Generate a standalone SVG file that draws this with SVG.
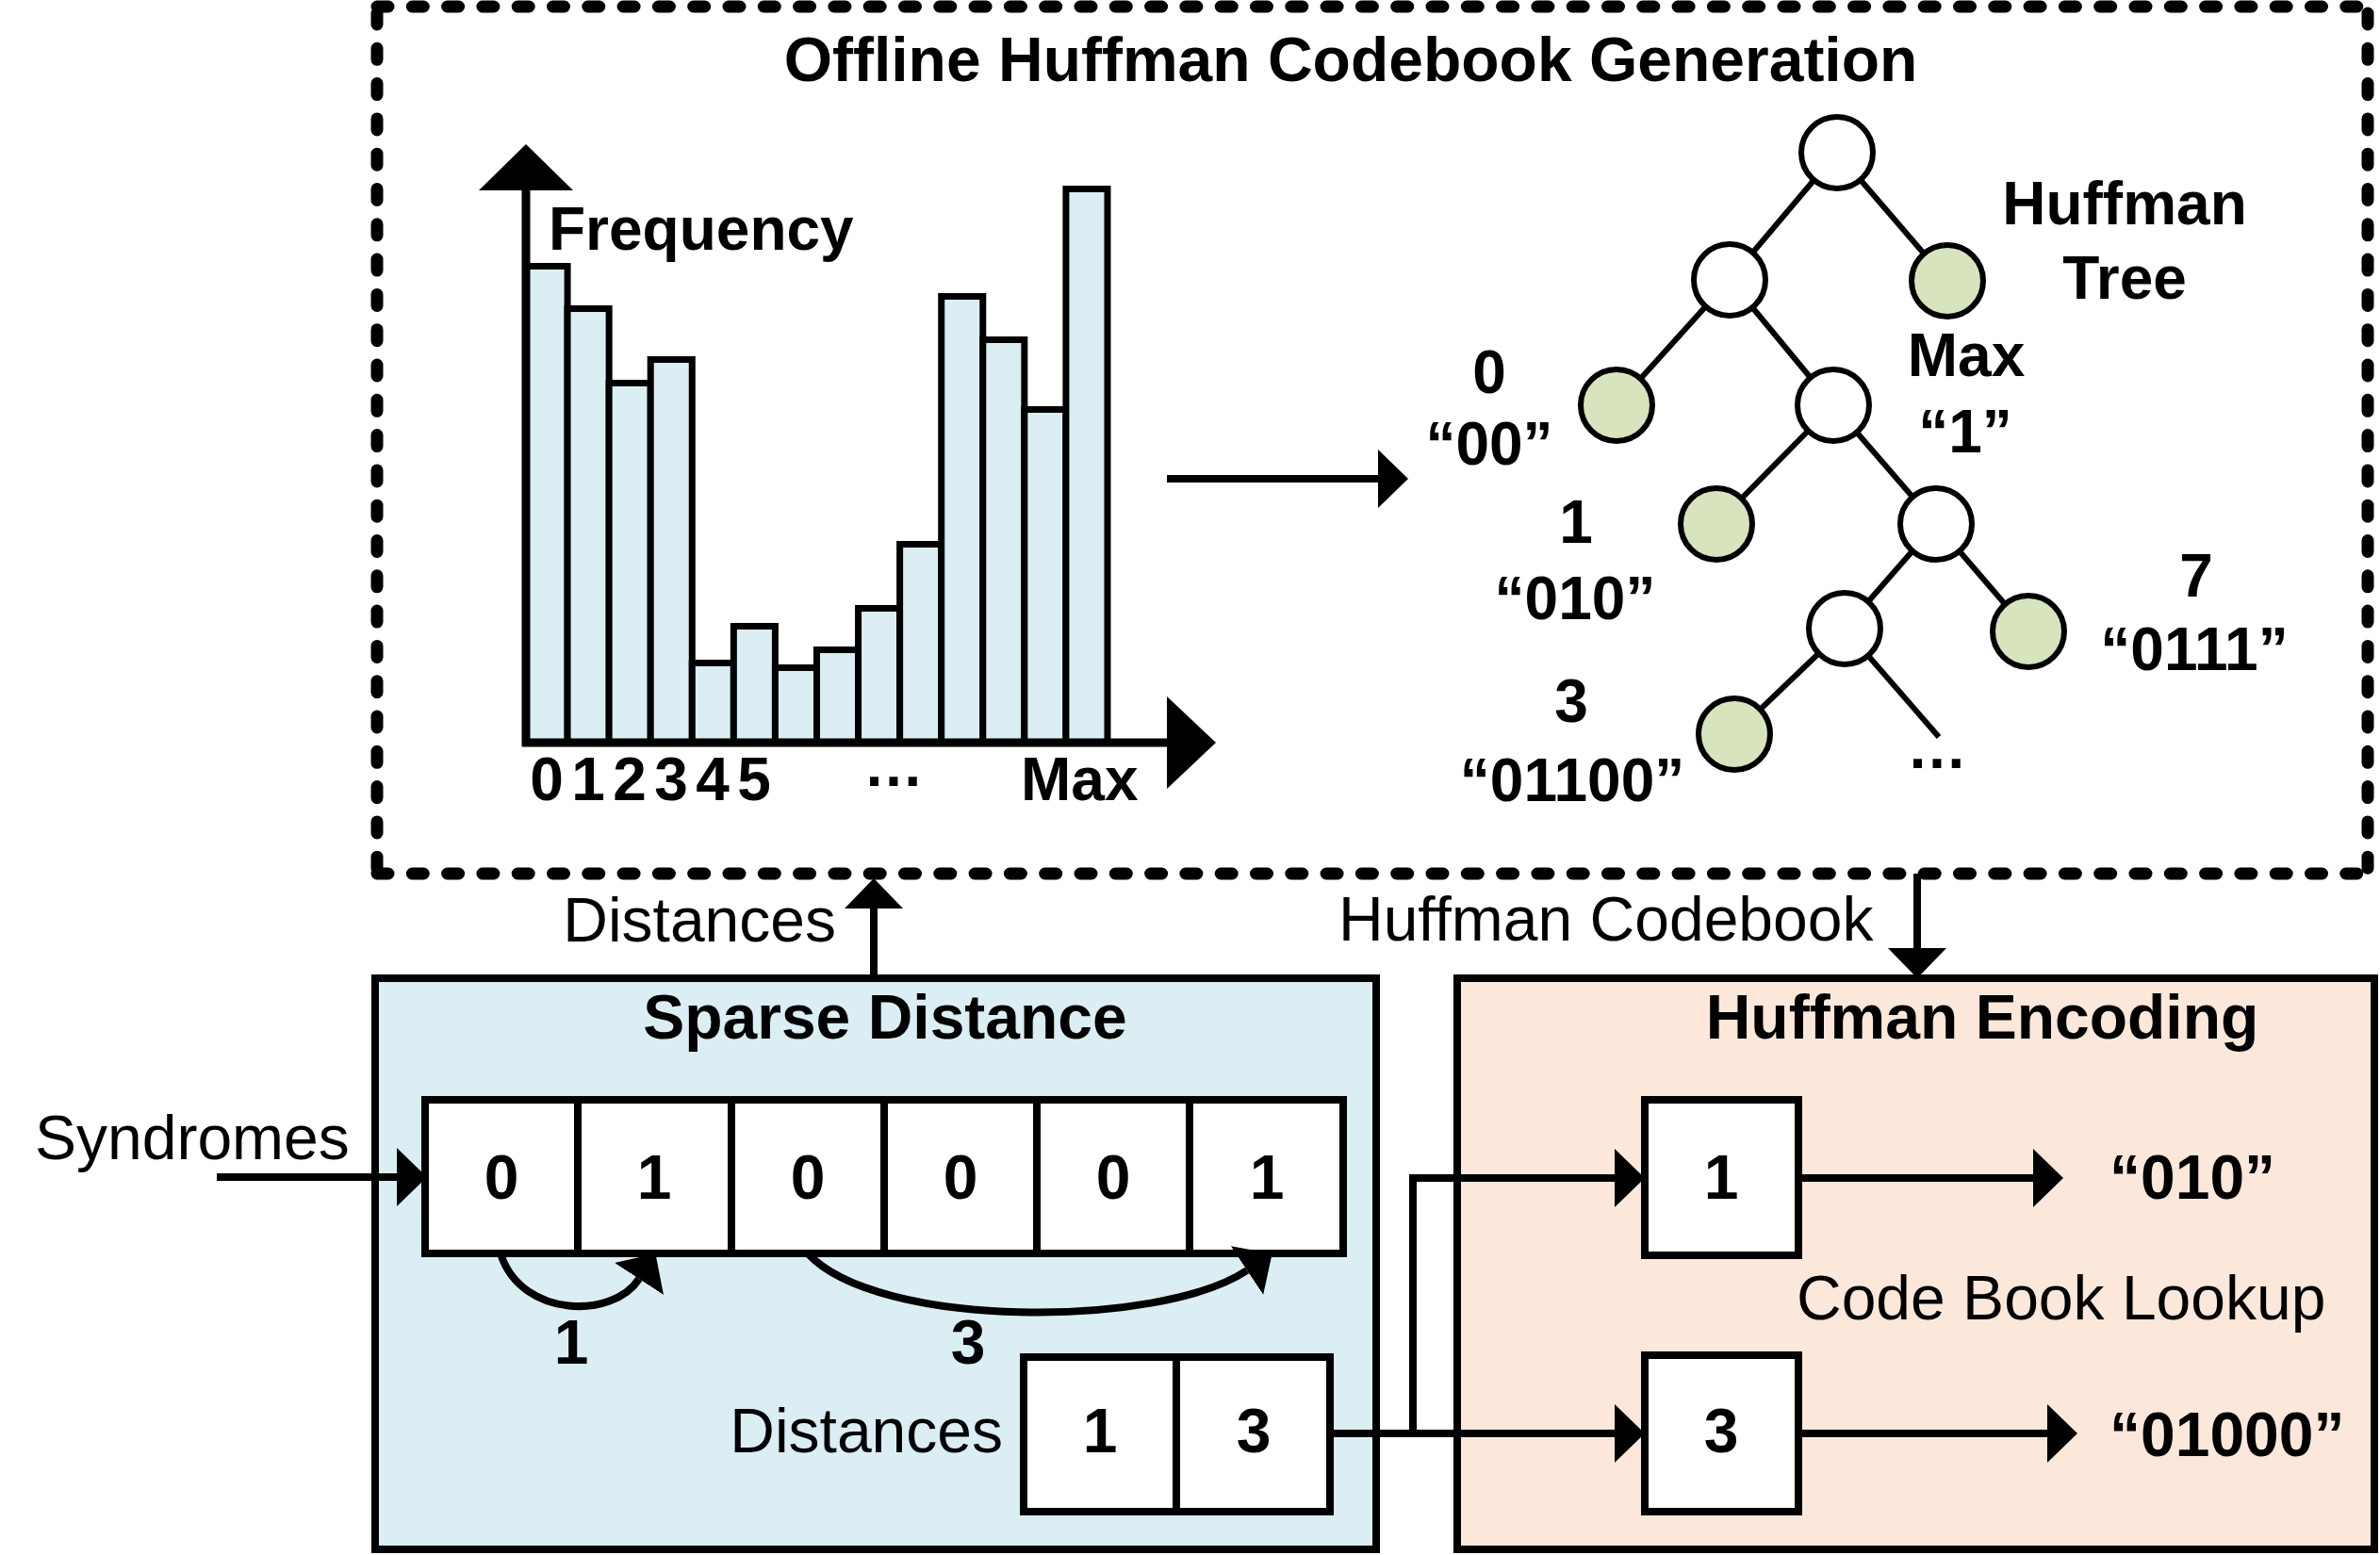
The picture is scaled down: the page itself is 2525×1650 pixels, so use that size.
<svg xmlns="http://www.w3.org/2000/svg" width="2525" height="1650" viewBox="0 0 2525 1650">
<style>
text{font-family:"Liberation Sans",Arial,Helvetica,sans-serif;fill:#000}
.b{font-weight:bold;font-size:66px}
.b4{font-weight:bold;font-size:64px}
.r{font-weight:normal;font-size:66px}
.m{text-anchor:middle}
.e{text-anchor:end}
.ln{stroke:#000;stroke-width:8;fill:none}
.bar{fill:#DAEEF3;stroke:#000;stroke-width:7}
.cell{fill:#fff;stroke:#000;stroke-width:8}
.edge{stroke:#000;stroke-width:6}
.wn{fill:#fff;stroke:#000;stroke-width:6}
.gn{fill:#D7E4BD;stroke:#000;stroke-width:6}
.dash{fill:none;stroke:#000;stroke-width:13;stroke-linecap:round;stroke-dasharray:12 25.3}
</style>
<defs>
<marker id="ah" markerUnits="userSpaceOnUse" viewBox="0 0 32 62" refX="0" refY="31" markerWidth="32" markerHeight="62" orient="auto">
<path d="M0,0 L32,31 L0,62 z" fill="#000"/>
</marker>
</defs>

<g id="offline-box">
<path class="dash" d="M400,7 H2512"/>
<path class="dash" d="M400,927 H2512"/>
<path class="dash" d="M400,14 V927"/>
<path class="dash" d="M2512,14 V927"/>
<text class="b m" x="1433" y="86">Offline Huffman Codebook Generation</text>
</g>

<g id="histogram">
<rect class="bar" x="558" y="282.5" width="44.07" height="505.5"/>
<rect class="bar" x="602.07" y="327.5" width="44.07" height="460.5"/>
<rect class="bar" x="646.14" y="406.5" width="44.07" height="381.5"/>
<rect class="bar" x="690.21" y="381.5" width="44.07" height="406.5"/>
<rect class="bar" x="734.28" y="703.5" width="44.07" height="84.5"/>
<rect class="bar" x="778.35" y="664.5" width="44.07" height="123.5"/>
<rect class="bar" x="822.42" y="708.5" width="44.07" height="79.5"/>
<rect class="bar" x="866.49" y="689.5" width="44.07" height="98.5"/>
<rect class="bar" x="910.56" y="645.5" width="44.07" height="142.5"/>
<rect class="bar" x="954.63" y="577.5" width="44.07" height="210.5"/>
<rect class="bar" x="998.7" y="314.5" width="44.07" height="473.5"/>
<rect class="bar" x="1042.77" y="360.5" width="44.07" height="427.5"/>
<rect class="bar" x="1086.84" y="434.5" width="44.07" height="353.5"/>
<rect class="bar" x="1130.91" y="200.5" width="44.07" height="587.5"/>
<line x1="558" y1="792" x2="558" y2="200" stroke="#000" stroke-width="9"/>
<polygon points="508,202 558,153 608,202" fill="#000"/>
<line x1="554" y1="788" x2="1240" y2="788" stroke="#000" stroke-width="9"/>
<polygon points="1238,739 1290,788 1238,837" fill="#000"/>
<text class="b4" x="582" y="265">Frequency</text>
<text class="b4 m" x="580" y="849">0</text>
<text class="b4 m" x="624" y="849">1</text>
<text class="b4 m" x="668" y="849">2</text>
<text class="b4 m" x="712" y="849">3</text>
<text class="b4 m" x="756" y="849">4</text>
<text class="b4 m" x="800" y="849">5</text>
<text class="b4 m" x="948" y="834">…</text>
<text class="b4" x="1083" y="849">Max</text>
</g>

<g id="huffman-tree">
<line class="edge" x1="1949" y1="162" x2="1835" y2="297"/>
<line class="edge" x1="1949" y1="162" x2="2066" y2="298"/>
<line class="edge" x1="1835" y1="297" x2="1715" y2="430"/>
<line class="edge" x1="1835" y1="297" x2="1945" y2="430"/>
<line class="edge" x1="1945" y1="430" x2="1821" y2="556"/>
<line class="edge" x1="1945" y1="430" x2="2054" y2="556"/>
<line class="edge" x1="2054" y1="556" x2="1957" y2="667"/>
<line class="edge" x1="2054" y1="556" x2="2152" y2="670"/>
<line class="edge" x1="1957" y1="667" x2="1840" y2="779"/>
<line class="edge" x1="1957" y1="667" x2="2057" y2="782"/>
<circle class="wn" cx="1949" cy="162" r="38"/>
<circle class="wn" cx="1835" cy="297" r="38"/>
<circle class="gn" cx="2066" cy="298" r="38"/>
<circle class="gn" cx="1715" cy="430" r="38"/>
<circle class="wn" cx="1945" cy="430" r="38"/>
<circle class="gn" cx="1821" cy="556" r="38"/>
<circle class="wn" cx="2054" cy="556" r="38"/>
<circle class="wn" cx="1957" cy="667" r="38"/>
<circle class="gn" cx="2152" cy="670" r="38"/>
<circle class="gn" cx="1840" cy="779" r="38"/>
<text class="b4 m" x="2254" y="238">Huffman</text>
<text class="b4 m" x="2254" y="317">Tree</text>
<text class="b4 m" x="2086" y="399">Max</text>
<text class="b4 m" x="2085" y="480">“1”</text>
<text class="b4 m" x="1580" y="417">0</text>
<text class="b4 m" x="1580" y="493">“00”</text>
<text class="b4 m" x="1672" y="576">1</text>
<text class="b4 m" x="1671" y="657">“010”</text>
<text class="b4 m" x="2330" y="633">7</text>
<text class="b4 m" x="2328" y="711">“0111”</text>
<text class="b4 m" x="1667" y="766">3</text>
<text class="b4 m" x="1668" y="850">“01100”</text>
<text class="b4 m" x="2055" y="815">…</text>
</g>

<g id="sparse-distance">
<rect x="398" y="1038" width="1062" height="606" fill="#DAEEF3" stroke="#000" stroke-width="8"/>
<text class="b m" x="939" y="1102">Sparse Distance</text>
<rect class="cell" x="451" y="1167" width="974" height="163"/>
<line class="ln" x1="613" y1="1167" x2="613" y2="1330"/>
<line class="ln" x1="776" y1="1167" x2="776" y2="1330"/>
<line class="ln" x1="938" y1="1167" x2="938" y2="1330"/>
<line class="ln" x1="1100" y1="1167" x2="1100" y2="1330"/>
<line class="ln" x1="1262" y1="1167" x2="1262" y2="1330"/>
<text class="b m" x="532" y="1272">0</text>
<text class="b m" x="694" y="1272">1</text>
<text class="b m" x="857" y="1272">0</text>
<text class="b m" x="1019" y="1272">0</text>
<text class="b m" x="1181" y="1272">0</text>
<text class="b m" x="1344" y="1272">1</text>
<text class="b m" x="606" y="1447">1</text>
<text class="b m" x="1027" y="1447">3</text>
<rect class="cell" x="1086" y="1440" width="325" height="164"/>
<line class="ln" x1="1248" y1="1440" x2="1248" y2="1604"/>
<text class="b m" x="1167" y="1541">1</text>
<text class="b m" x="1330" y="1541">3</text>
<text class="r e" x="1064" y="1541">Distances</text>
</g>

<g id="huffman-encoding">
<rect x="1546" y="1038" width="973" height="606" fill="#FBE8DA" stroke="#000" stroke-width="8"/>
<text class="b m" x="2103" y="1102">Huffman Encoding</text>
<rect class="cell" x="1745" y="1167" width="163" height="165"/>
<text class="b m" x="1826" y="1272">1</text>
<rect class="cell" x="1745" y="1438" width="163" height="166"/>
<text class="b m" x="1826" y="1541">3</text>
<text class="r" x="1906" y="1400">Code Book Lookup</text>
<text class="b" x="2238" y="1272">“010”</text>
<text class="b" x="2238" y="1545">“01000”</text>
</g>

<g id="connectors">
<line class="ln" x1="1238" y1="508" x2="1462" y2="508" marker-end="url(#ah)"/>
<line class="ln" x1="927" y1="1038" x2="927" y2="964" marker-end="url(#ah)"/>
<line class="ln" x1="2034" y1="927" x2="2034" y2="1006" marker-end="url(#ah)"/>
<line class="ln" x1="230" y1="1249" x2="421" y2="1249" marker-end="url(#ah)"/>
<path class="ln" d="M532,1333 C555,1398 650,1400 678,1357" marker-end="url(#ah)"/>
<path class="ln" d="M857,1330 C930,1410 1230,1410 1323,1348" marker-end="url(#ah)"/>
<path class="ln" d="M1411,1521 H1713"/>
<line class="ln" x1="1499" y1="1521" x2="1713" y2="1521" marker-end="url(#ah)"/>
<path class="ln" d="M1499,1521 V1250 H1713" marker-end="url(#ah)"/>
<line class="ln" x1="1908" y1="1250" x2="2157" y2="1250" marker-end="url(#ah)"/>
<line class="ln" x1="1908" y1="1521" x2="2172" y2="1521" marker-end="url(#ah)"/>
<text class="r e" x="887" y="999">Distances</text>
<text class="r" x="1420" y="998">Huffman Codebook</text>
<text class="r" x="37" y="1230">Syndromes</text>
</g>
</svg>
